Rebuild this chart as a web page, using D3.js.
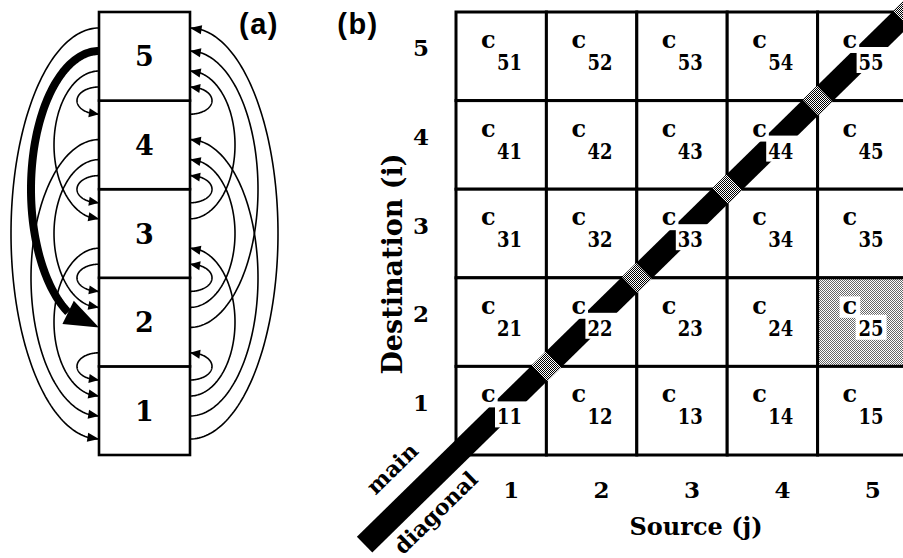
<!DOCTYPE html>
<html>
<head>
<meta charset="utf-8">
<script src="https://cdn.jsdelivr.net/npm/d3@7"></script>
<style>
  html, body { margin: 0; padding: 0; background: #fff; }
  svg { display: block; }
  .serif { font-family: "DejaVu Serif", serif; font-weight: bold; }
  .sans { font-family: "Liberation Sans", Arial, sans-serif; font-weight: bold; }
</style>
</head>
<body>
<svg id="fig" width="903" height="558"></svg>
<script>
// ---- data ---------------------------------------------------------------
const compartments = [1, 2, 3, 4, 5];                 // boxes of panel (a)
const rowLabels = ["5", "4", "3", "2", "1"];          // destination i (top to bottom)
const colLabels = ["1", "2", "3", "4", "5"];          // source j (left to right)
const highlightedFlow = [5, 2];                       // source j -> destination i drawn heavy / shaded
const panelLabels = ["(a)", "(b)"];
const axisTitles = ["Source (j)", "Destination (i)"];
const diagonalWords = ["main", "diagonal"];

// ---- layout constants ---------------------------------------------------
const W = 903, H = 558;
const svg = d3.select("#fig");

const yRow = d3.scaleBand().domain(rowLabels).range([12, 455]);
const xCol = d3.scaleBand().domain(colLabels).range([456, 908]);
const xBox = d3.scaleBand().domain(["box"]).range([99, 190]);
const rh = yRow.bandwidth();

// distance-dependent arc geometry (|i - j| = 1..4)
const endOffset = [0, 75, 59, 39, 16];
const reach = [0, 22, 45, 68, 88];

const defs = svg.append("defs");

// stipple patterns
const pDark = defs.append("pattern").attr("id", "stipDark")
  .attr("patternUnits", "userSpaceOnUse").attr("width", 2).attr("height", 2);
pDark.append("rect").attr("width", 2).attr("height", 2).attr("fill", "#fff");
pDark.append("rect").attr("x", 0).attr("y", 0).attr("width", 1).attr("height", 1).attr("fill", "#000");
pDark.append("rect").attr("x", 1).attr("y", 1).attr("width", 1).attr("height", 1).attr("fill", "#000");

const pLight = defs.append("pattern").attr("id", "stipLight")
  .attr("patternUnits", "userSpaceOnUse").attr("width", 2).attr("height", 2);
pLight.append("rect").attr("width", 2).attr("height", 2).attr("fill", "#fff");
pLight.append("rect").attr("x", 0).attr("y", 0).attr("width", 1).attr("height", 1).attr("fill", "#000").attr("opacity", 0.6);
pLight.append("rect").attr("x", 1).attr("y", 1).attr("width", 1).attr("height", 1).attr("fill", "#000").attr("opacity", 0.6);

// ---- panel (a): compartments and transfers -----------------------------
const gA = svg.append("g");
const boxL = xBox("box"), boxR = xBox("box") + xBox.bandwidth();

const flows = [];
compartments.forEach(src => compartments.forEach(dst => {
  if (src !== dst) flows.push({ src, dst, d: Math.abs(src - dst) });
}));

function flowPoints(f) {
  const d = f.d, rx = reach[d];
  const pts = [];
  const n = 120;
  if (f.src > f.dst) {
    // downward transfer: left side, from upper box to lower box
    const yA = yRow(String(f.src)) + endOffset[d];
    const yB = yRow(String(f.dst)) + rh - endOffset[d];
    const cy = (yA + yB) / 2, ry = (yB - yA) / 2;
    for (let k = 0; k <= n; k++) {
      const t = Math.PI * k / n;
      pts.push([boxL - rx * Math.sin(t), cy - ry * Math.cos(t)]);
    }
  } else {
    // upward transfer: right side, from lower box to upper box
    const yA = yRow(String(f.src)) + rh - endOffset[d];
    const yB = yRow(String(f.dst)) + endOffset[d];
    const cy = (yA + yB) / 2, ry = (yA - yB) / 2;
    for (let k = 0; k <= n; k++) {
      const t = Math.PI * k / n;
      pts.push([boxR + rx * Math.sin(t), cy + ry * Math.cos(t)]);
    }
  }
  return pts;
}

function splitForHead(pts, len) {
  const tip = pts[pts.length - 1];
  let k = pts.length - 1;
  while (k > 0 && Math.hypot(pts[k][0] - tip[0], pts[k][1] - tip[1]) < len) k--;
  return { body: pts.slice(0, k + 1), base: pts[k], tip };
}

function headPolygon(base, tip, hw) {
  const dx = tip[0] - base[0], dy = tip[1] - base[1];
  const L = Math.hypot(dx, dy);
  const px = -dy / L, py = dx / L;
  return [[tip[0], tip[1]], [base[0] + px * hw, base[1] + py * hw], [base[0] - px * hw, base[1] - py * hw]];
}

const line = d3.line();
const heads = [];
flows.forEach(f => {
  const heavy = f.src === highlightedFlow[0] && f.dst === highlightedFlow[1];
  const pts = flowPoints(f);
  const s = splitForHead(pts, heavy ? 34 : 10);
  gA.append("path")
    .attr("d", line(heavy ? s.body : pts))
    .attr("fill", "none").attr("stroke", "#000")
    .attr("stroke-width", heavy ? 8 : 1.6);
  heads.push(headPolygon(s.base, s.tip, heavy ? 13 : 4.5));
});

gA.selectAll("rect.box").data(compartments).join("rect")
  .attr("class", "box")
  .attr("x", boxL).attr("y", c => yRow(String(c)))
  .attr("width", xBox.bandwidth()).attr("height", rh)
  .attr("fill", "#fff").attr("stroke", "#000").attr("stroke-width", 2.6);

gA.selectAll("path.head").data(heads).join("path")
  .attr("class", "head")
  .attr("d", p => "M" + p.map(q => q.join(",")).join("L") + "Z")
  .attr("fill", "#000");

gA.selectAll("text.num").data(compartments).join("text")
  .attr("class", "num serif")
  .attr("x", (boxL + boxR) / 2)
  .attr("y", c => yRow(String(c)) + rh / 2 + 10)
  .attr("text-anchor", "middle").attr("font-size", 27)
  .text(c => c);

// ---- panel (b): transfer coefficient matrix ----------------------------
const gB = svg.append("g");
const cells = [];
rowLabels.forEach(i => colLabels.forEach(j => cells.push({ i, j })));
const isHi = c => +c.j === highlightedFlow[0] && +c.i === highlightedFlow[1];

gB.selectAll("rect.cell").data(cells).join("rect")
  .attr("class", "cell")
  .attr("x", c => xCol(c.j)).attr("y", c => yRow(c.i))
  .attr("width", xCol.bandwidth()).attr("height", rh)
  .attr("fill", c => isHi(c) ? "url(#stipLight)" : "#fff")
  .attr("stroke", "#000").attr("stroke-width", 3);

// label geometry inside a cell
const cFont = 24, sFont = 23;
const lab = c => {
  const x0 = xCol(c.j), y0 = yRow(c.i);
  return { cx: x0 + 25, cb: y0 + 36, sx: x0 + 41, sb: y0 + 58 };
};

// main diagonal band, passing through the grid corners
const A = [xCol("1"), yRow("1") + rh];
const B = [xCol("5") + xCol.bandwidth(), yRow("5")];
const len = Math.hypot(B[0] - A[0], B[1] - A[1]);
const u = [(B[0] - A[0]) / len, (B[1] - A[1]) / len];
const nrm = [u[1], -u[0]];  // pointing up-left
const at = (s, o = 0) => [A[0] + u[0] * s + nrm[0] * o, A[1] + u[1] * s + nrm[1] * o];

// cut-outs around the diagonal-cell labels
const mask = defs.append("mask").attr("id", "labelCut")
  .attr("maskUnits", "userSpaceOnUse").attr("x", 0).attr("y", 0).attr("width", W).attr("height", H);
mask.append("rect").attr("x", 0).attr("y", 0).attr("width", W).attr("height", H).attr("fill", "#fff");

const bandG = gB.append("g").attr("mask", "url(#labelCut)");
bandG.append("path")
  .attr("d", line([at(-128), at(len + 40)]))
  .attr("stroke", "#000").attr("stroke-width", 22).attr("fill", "none");

// lighter stipple where the band crosses the grid corners
d3.range(1, 6).forEach(k => {
  const s = len * k / 5;
  bandG.append("path")
    .attr("d", line([at(s - 10), at(s + 10)]))
    .attr("stroke", "url(#stipDark)").attr("stroke-width", 22).attr("fill", "none");
});

// cell labels c_ij
const labG = gB.append("g");
cells.forEach(c => {
  const L = lab(c);
  const tc = labG.append("text").attr("class", "serif")
    .attr("x", L.cx).attr("y", L.cb).attr("font-size", cFont).text("c");
  const ts = labG.append("text").attr("class", "serif")
    .attr("x", L.sx).attr("y", L.sb).attr("font-size", sFont)
    .attr("textLength", 25).attr("lengthAdjust", "spacingAndGlyphs")
    .text(c.i + c.j);
  const cw = tc.node().getComputedTextLength();
  const sw = 25;
  const cTop = L.cb - 0.56 * cFont, sTop = L.sb - 0.74 * sFont;
  if (c.i === c.j) {
    mask.append("rect").attr("x", L.cx - 2).attr("y", cTop - 3)
      .attr("width", cw + 4).attr("height", L.cb - cTop + 3).attr("fill", "#000");
    mask.append("rect").attr("x", L.cx - 40).attr("y", L.cb - 1)
      .attr("width", (L.sx + sw + 40) - (L.cx - 40)).attr("height", Math.max(2, sTop - L.cb + 1)).attr("fill", "#000");
    mask.append("rect").attr("x", L.sx - 2).attr("y", sTop - 1)
      .attr("width", sw + 4).attr("height", L.sb - sTop + 4).attr("fill", "#000");
  }
  if (isHi(c)) {
    labG.insert("rect", "text").attr("x", L.cx - 3).attr("y", cTop - 4)
      .attr("width", cw + 6).attr("height", L.cb - cTop + 8).attr("fill", "#fff");
    labG.insert("rect", "text").attr("x", L.sx - 3).attr("y", sTop - 4)
      .attr("width", sw + 6).attr("height", L.sb - sTop + 8).attr("fill", "#fff");
  }
});

// tick labels
gB.selectAll("text.ytick").data(rowLabels).join("text")
  .attr("class", "ytick serif")
  .attr("x", 421).attr("y", r => yRow(r) + rh / 2)
  .attr("text-anchor", "middle").attr("font-size", 23).text(r => r);

gB.selectAll("text.xtick").data(colLabels).join("text")
  .attr("class", "xtick serif")
  .attr("x", c => xCol(c) + xCol.bandwidth() / 2 + 10).attr("y", 498)
  .attr("text-anchor", "middle").attr("font-size", 23).text(c => c);

// axis titles
gB.append("text").attr("class", "serif")
  .attr("x", 696).attr("y", 535).attr("text-anchor", "middle")
  .attr("font-size", 24).text(axisTitles[0]);
gB.append("text").attr("class", "serif")
  .attr("transform", "translate(402,264) rotate(-90)")
  .attr("text-anchor", "middle").attr("font-size", 27).text(axisTitles[1]);

// "main diagonal" annotation, running along the band
const ang = Math.atan2(u[1], u[0]) * 180 / Math.PI;
const pMain = at(-55, 35), pDiag = at(-55, -27);
gB.append("text").attr("class", "serif")
  .attr("transform", `translate(${pMain[0]},${pMain[1]}) rotate(${ang})`)
  .attr("text-anchor", "middle").attr("dy", "0.35em").attr("font-size", 22).text(diagonalWords[0]);
gB.append("text").attr("class", "serif")
  .attr("transform", `translate(${pDiag[0]},${pDiag[1]}) rotate(${ang})`)
  .attr("text-anchor", "middle").attr("dy", "0.35em").attr("font-size", 22).text(diagonalWords[1]);

// panel labels
svg.append("text").attr("class", "sans").attr("x", 259).attr("y", 34)
  .attr("text-anchor", "middle").attr("font-size", 29).attr("letter-spacing", 1.5).text(panelLabels[0]);
svg.append("text").attr("class", "sans").attr("x", 358).attr("y", 34)
  .attr("text-anchor", "middle").attr("font-size", 29).attr("letter-spacing", 1.5).text(panelLabels[1]);
</script>
</body>
</html>
